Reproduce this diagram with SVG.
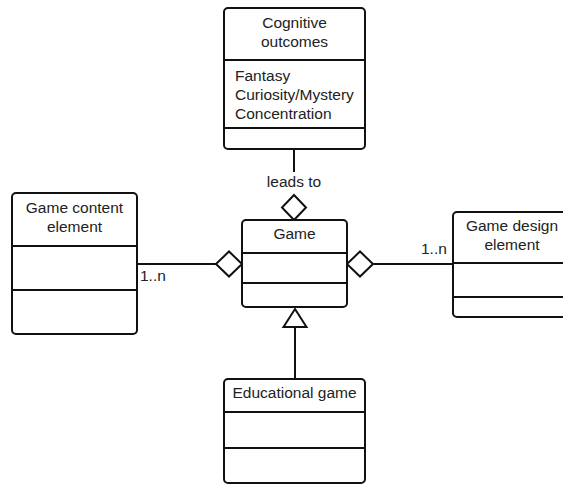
<svg xmlns="http://www.w3.org/2000/svg" width="563" height="484" viewBox="0 0 563 484">
  <style>
    .box { fill: #ffffff; stroke: #111111; stroke-width: 2; }
    .div { stroke: #111111; stroke-width: 2; fill: none; }
    .line { stroke: #111111; stroke-width: 2; fill: none; }
    .head { fill: #ffffff; stroke: #111111; stroke-width: 2; stroke-linejoin: miter; }
    text { font-family: "Liberation Sans", Arial, sans-serif; font-size: 15.5px; fill: #222222; }
    .c { text-anchor: middle; }
  </style>
  <rect width="563" height="484" fill="#ffffff"/>

  <!-- connectors -->
  <g id="connectors">
    <!-- Cognitive outcomes to Game -->
    <line class="line" x1="294" y1="149" x2="294" y2="172"/>
    <text class="c" x="294" y="187">leads to</text>
    <polygon class="head" points="294,195 306,207.5 294,220 282,207.5"/>
    <!-- Game content element to Game -->
    <line class="line" x1="137" y1="264" x2="216" y2="264"/>
    <text x="140" y="281">1..n</text>
    <polygon class="head" points="216,264 229,251.5 242,264 229,276.5"/>
    <!-- Game design element to Game -->
    <line class="line" x1="373" y1="264" x2="453" y2="264"/>
    <text x="421" y="254">1..n</text>
    <polygon class="head" points="347,264 360,251.5 373,264 360,276.5"/>
    <!-- Educational game generalises Game -->
    <line class="line" x1="295" y1="327" x2="295" y2="379"/>
    <polygon class="head" points="295,309 306.5,327 283.5,327"/>
  </g>

  <g id="cognitive-outcomes">
    <rect class="box" x="224" y="8" width="141" height="141" rx="4"/>
    <line class="div" x1="224" y1="60" x2="365" y2="60"/>
    <line class="div" x1="224" y1="128" x2="365" y2="128"/>
    <text class="c" x="294.5" y="28">Cognitive</text>
    <text class="c" x="294.5" y="47">outcomes</text>
    <text x="235" y="81">Fantasy</text>
    <text x="235" y="100">Curiosity/Mystery</text>
    <text x="235" y="119">Concentration</text>
  </g>

  <g id="game">
    <rect class="box" x="242" y="220" width="105" height="87" rx="4"/>
    <line class="div" x1="242" y1="253" x2="347" y2="253"/>
    <line class="div" x1="242" y1="283" x2="347" y2="283"/>
    <text class="c" x="294.5" y="239">Game</text>
  </g>

  <g id="game-content-element">
    <rect class="box" x="12" y="193" width="125" height="141" rx="4"/>
    <line class="div" x1="12" y1="246" x2="137" y2="246"/>
    <line class="div" x1="12" y1="290" x2="137" y2="290"/>
    <text class="c" x="74.5" y="213">Game content</text>
    <text class="c" x="74.5" y="232">element</text>
  </g>

  <g id="game-design-element">
    <rect class="box" x="453" y="212" width="120" height="105" rx="4"/>
    <line class="div" x1="453" y1="263" x2="573" y2="263"/>
    <line class="div" x1="453" y1="297" x2="573" y2="297"/>
    <text class="c" x="512" y="231">Game design</text>
    <text class="c" x="512" y="250">element</text>
  </g>

  <g id="educational-game">
    <rect class="box" x="224" y="379" width="141" height="104" rx="4"/>
    <line class="div" x1="224" y1="412" x2="365" y2="412"/>
    <line class="div" x1="224" y1="448" x2="365" y2="448"/>
    <text class="c" x="294.5" y="398">Educational game</text>
  </g>
</svg>
